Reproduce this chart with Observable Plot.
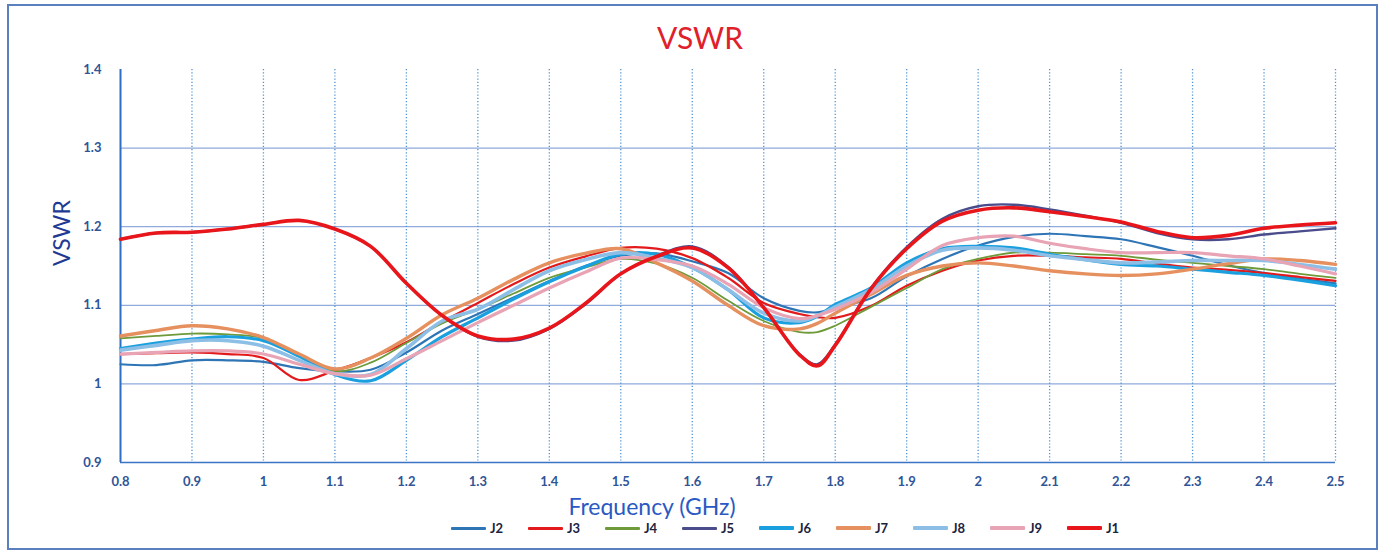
<!DOCTYPE html>
<html>
<head>
<meta charset="utf-8">
<script src="https://cdn.jsdelivr.net/npm/d3@7"></script>
<script src="https://cdn.jsdelivr.net/npm/@observablehq/plot@0.6"></script>
<style>
  body { margin: 0; background: #fff; }
  #wrap { position: relative; width: 1382px; height: 554px; overflow: hidden; font-family: Lato, "Open Sans", sans-serif; background: #fff; }
  #frame { position: absolute; left: 7px; top: 4px; width: 1371px; height: 546px; border: 2px solid #5B7FBF; box-sizing: border-box; pointer-events: none; }
  #title { position: absolute; left: 700px; top: 22px; transform: translateX(-50%); font-size: 30px; line-height: 30px; color: #E0202A; white-space: nowrap; }
  #chart { position: absolute; left: 0; top: 60px; }
  .leg { position: absolute; top: 520px; height: 16px; display: flex; align-items: center; font-size: 13px; font-weight: bold; color: #1C2340; }
  .leg .sw { width: 35px; margin-right: 4px; border-radius: 1px; }
</style>
</head>
<body>
<div id="wrap">
  <div id="frame"></div>
  <div id="title">VSWR</div>
  <div id="chart"></div>
</div>
<script>
// Frequency (GHz)
const freq = [0.8,0.85,0.9,0.95,1.0,1.05,1.1,1.15,1.2,1.25,1.3,1.35,1.4,1.45,1.5,1.55,1.6,1.65,1.7,1.75,1.775,1.8,1.85,1.9,1.95,2.0,2.05,2.1,2.15,2.2,2.25,2.3,2.35,2.4,2.45,2.5];

const J2 = [1.025,1.024,1.030,1.030,1.028,1.020,1.016,1.018,1.040,1.068,1.089,1.110,1.131,1.150,1.163,1.166,1.156,1.141,1.109,1.093,1.091,1.097,1.109,1.137,1.159,1.176,1.187,1.191,1.188,1.184,1.174,1.163,1.151,1.141,1.134,1.128];
const J3 = [1.038,1.039,1.040,1.038,1.033,1.005,1.017,1.033,1.053,1.079,1.103,1.127,1.148,1.162,1.173,1.172,1.160,1.135,1.103,1.089,1.085,1.084,1.099,1.125,1.144,1.157,1.163,1.163,1.161,1.159,1.153,1.148,1.145,1.141,1.136,1.131];
const J4 = [1.058,1.061,1.064,1.063,1.058,1.036,1.016,1.027,1.052,1.077,1.095,1.115,1.135,1.148,1.159,1.153,1.135,1.106,1.080,1.066,1.066,1.074,1.098,1.122,1.146,1.159,1.167,1.167,1.165,1.163,1.158,1.154,1.150,1.146,1.140,1.135];
const J5 = [1.184,1.192,1.193,1.197,1.203,1.208,1.197,1.175,1.128,1.087,1.060,1.055,1.070,1.101,1.140,1.163,1.175,1.149,1.097,1.038,1.025,1.050,1.122,1.174,1.210,1.226,1.228,1.222,1.214,1.205,1.192,1.184,1.184,1.190,1.194,1.198];
const J6 = [1.045,1.052,1.057,1.060,1.055,1.035,1.012,1.004,1.030,1.060,1.084,1.108,1.130,1.149,1.165,1.165,1.148,1.120,1.084,1.078,1.086,1.101,1.122,1.154,1.172,1.175,1.173,1.165,1.158,1.152,1.150,1.146,1.142,1.138,1.132,1.125];
const J7 = [1.061,1.068,1.074,1.070,1.059,1.038,1.019,1.033,1.058,1.088,1.109,1.133,1.154,1.166,1.172,1.154,1.131,1.100,1.074,1.070,1.077,1.090,1.114,1.138,1.150,1.154,1.150,1.144,1.140,1.138,1.140,1.146,1.153,1.159,1.157,1.152];
const J8 = [1.043,1.049,1.055,1.055,1.048,1.030,1.013,1.012,1.045,1.080,1.095,1.120,1.144,1.158,1.167,1.160,1.148,1.120,1.090,1.080,1.087,1.098,1.120,1.150,1.170,1.173,1.170,1.163,1.158,1.154,1.155,1.157,1.157,1.157,1.152,1.146];
const J9 = [1.038,1.040,1.042,1.042,1.038,1.025,1.013,1.011,1.032,1.055,1.078,1.100,1.122,1.142,1.160,1.158,1.150,1.127,1.097,1.083,1.087,1.095,1.116,1.146,1.176,1.186,1.188,1.179,1.172,1.167,1.167,1.167,1.163,1.159,1.150,1.140];
const J1 = [1.184,1.192,1.193,1.197,1.203,1.208,1.197,1.175,1.128,1.087,1.061,1.057,1.071,1.102,1.140,1.162,1.173,1.148,1.097,1.037,1.023,1.049,1.121,1.172,1.207,1.221,1.224,1.219,1.213,1.206,1.194,1.186,1.189,1.198,1.202,1.205];

const seriesNames = ["J2","J3","J4","J5","J6","J7","J8","J9","J1"];
const seriesValues = {J2, J3, J4, J5, J6, J7, J8, J9, J1};

const xTicks = [0.8,0.9,1.0,1.1,1.2,1.3,1.4,1.5,1.6,1.7,1.8,1.9,2.0,2.1,2.2,2.3,2.4,2.5];
const xTickLabels = ["0.8","0.9","1","1.1","1.2","1.3","1.4","1.5","1.6","1.7","1.8","1.9","2","2.1","2.2","2.3","2.4","2.5"];
const yTicks = [0.9,1.0,1.1,1.2,1.3,1.4];
const yTickLabels = ["0.9","1","1.1","1.2","1.3","1.4"];
const yGrid = [1.0,1.1,1.2,1.3];
const xGrid = [0.9,1.0,1.1,1.2,1.3,1.4,1.5,1.6,1.7,1.8,1.9,2.0,2.1,2.2,2.3,2.4,2.5];

const styles = {
  J2: {color: "#2E75B6", width: 2.2},
  J3: {color: "#E31A1C", width: 2.2},
  J4: {color: "#6E9A3A", width: 1.8},
  J5: {color: "#4A4C8C", width: 2.4},
  J6: {color: "#1AA0DE", width: 3.2},
  J7: {color: "#E5905E", width: 3.4},
  J8: {color: "#8DBFE6", width: 3.6},
  J9: {color: "#E8A3B5", width: 3.2},
  J1: {color: "#E8161B", width: 3.6}
};

const lineMarks = seriesNames.map(name => {
  const rows = freq.map((f, i) => ({f, v: seriesValues[name][i]}));
  return Plot.line(rows, {x: "f", y: "v", stroke: styles[name].color, strokeWidth: styles[name].width, curve: "catmull-rom"});
});

const chart = Plot.plot({
  width: 1382,
  height: 462,
  marginTop: 9,
  marginBottom: 60,
  marginLeft: 120,
  marginRight: 47,
  style: {fontFamily: "Lato, 'Open Sans', sans-serif", fontSize: "13px", fontWeight: "bold", color: "#2F5597", background: "transparent"},
  x: {domain: [0.8, 2.5]},
  y: {domain: [0.9, 1.4]},
  marks: [
    Plot.ruleY(yGrid, {stroke: "#8FAADC", strokeWidth: 1.3}),
    Plot.ruleX(xGrid, {stroke: "#4F93D2", strokeWidth: 1.3, strokeDasharray: "1.2,2"}),
    Plot.ruleX([0.8], {stroke: "#2E6FC4", strokeWidth: 2}),
    Plot.ruleY([0.9], {stroke: "#3B74C4", strokeWidth: 1.6}),
    ...lineMarks,
    Plot.axisX({ticks: xTicks, tickFormat: (d, i) => xTickLabels[i], tickSize: 0, tickPadding: 14, label: null}),
    Plot.axisY({ticks: yTicks, tickFormat: (d, i) => yTickLabels[i], tickSize: 0, tickPadding: 19, label: null}),
    Plot.text(["VSWR"], {frameAnchor: "left", dx: -58, rotate: -90, fontSize: 23, fontWeight: "normal", fill: "#1F3A93"}),
    Plot.text(["Frequency (GHz)"], {frameAnchor: "bottom", dx: -76, dy: 45, lineAnchor: "middle", fontSize: 23, fontWeight: "normal", fill: "#2B59C3"})
  ]
});
document.getElementById("chart").appendChild(chart);

// Legend
const wrap = document.getElementById("wrap");
seriesNames.forEach((name, i) => {
  const item = document.createElement("div");
  item.className = "leg";
  item.style.left = (451 + i * 77) + "px";
  const sw = document.createElement("div");
  sw.className = "sw";
  sw.style.background = styles[name].color;
  sw.style.height = (i >= 4 ? 4 : 3) + "px";
  const lab = document.createElement("span");
  lab.textContent = name;
  item.appendChild(sw);
  item.appendChild(lab);
  wrap.appendChild(item);
});
</script>
</body>
</html>
